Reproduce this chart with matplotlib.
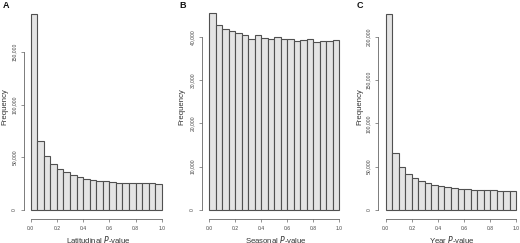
import matplotlib
matplotlib.use("Agg")
import matplotlib.pyplot as plt
import numpy as np

plt.rcParams['font.family'] = ['Liberation Sans', 'DejaVu Sans']

bin_edges = [i / 20 for i in range(21)]
x_ticks = [0.0, 0.2, 0.4, 0.6, 0.8, 1.0]
x_tick_labels = ["0.0", "0.2", "0.4", "0.6", "0.8", "1.0"]

lat_counts = [186000, 65800, 50900, 43700, 38600, 35800, 33200, 31300, 29700, 28800,
              27800, 27200, 26600, 25900, 25600, 25600, 25300, 25300, 25300, 25000]
sea_counts = [45400, 42700, 41800, 41400, 40800, 40500, 39500, 40300, 39800, 39500,
              39900, 39400, 39400, 39100, 39150, 39400, 38850, 39000, 39000, 39150]
year_counts = [226000, 66200, 49200, 41200, 36500, 33100, 30800, 28800, 27300, 26200,
               25000, 24600, 24200, 23500, 23100, 22700, 22700, 22300, 22300, 22300]

panels = [
    dict(letter="A", counts=lat_counts, xlabel_prefix="Latitudinal ",
         yticks=[0, 50000, 100000, 150000],
         ylabels=["0", "50,000", "100,000", "150,000"],
         ylim=(-8544, 187970), xlim=(-0.051, 1.04)),
    dict(letter="B", counts=sea_counts, xlabel_prefix="Seasonal ",
         yticks=[0, 10000, 20000, 30000, 40000],
         ylabels=["0", "10,000", "20,000", "30,000", "40,000"],
         ylim=(-2077, 45696), xlim=(-0.056, 1.04)),
    dict(letter="C", counts=year_counts, xlabel_prefix="Year ",
         yticks=[0, 50000, 100000, 150000, 200000],
         ylabels=["0", "50,000", "100,000", "150,000", "200,000"],
         ylim=(-10385, 228474), xlim=(-0.056, 1.02)),
]

W, H = 520, 243
fig = plt.figure(figsize=(W / 100, H / 100), dpi=100)

# axes pixel boxes: left, right, top, bottom (from top)
boxes = [(24, 167, 12, 219), (201.7, 344.5, 12, 219), (378.3, 519, 12, 219)]
letter_x = [3, 179, 357]
freq_x = [5, 182, 360]

edge_col = "#505050"
fill_col = "#e4e4e4"
spine_col = "#666666"

for p, box, lx, fx in zip(panels, boxes, letter_x, freq_x):
    l, r, t, b = box
    ax = fig.add_axes([l / W, 1 - b / H, (r - l) / W, (b - t) / H])
    ax.bar(bin_edges[:-1], p["counts"], width=0.05, align="edge",
           color=fill_col, edgecolor=edge_col, linewidth=0.8)
    ax.set_xlim(*p["xlim"])
    ax.set_ylim(*p["ylim"])
    for s in ["top", "right"]:
        ax.spines[s].set_visible(False)
    ax.spines["left"].set_bounds(p["yticks"][0], p["yticks"][-1])
    ax.spines["bottom"].set_bounds(0, 1)
    for s in ["left", "bottom"]:
        ax.spines[s].set_color(spine_col)
        ax.spines[s].set_linewidth(0.6)
    ax.set_xticks(x_ticks)
    ax.set_xticklabels(x_tick_labels, fontsize=3.6, color="#444444")
    ax.set_yticks(p["yticks"])
    ax.set_yticklabels(p["ylabels"], fontsize=3.6, color="#444444",
                       rotation=90, va="center")
    ax.tick_params(axis="both", length=2.5, width=0.5, color=spine_col, pad=2.5)
    ax.patch.set_visible(False)
    cx = (l + r) / 2 + 3
    fig.text(cx / W, 1 - 239 / H, p["xlabel_prefix"] + "$\\it{P}$-value",
             ha="center", va="center", fontsize=5.6, color="#333333")
    fig.text(fx / W, 1 - 107 / H, "Frequency", rotation=90,
             ha="center", va="center", fontsize=5.6, color="#333333")
    fig.text(lx / W, 1 - 6 / H, p["letter"], ha="left", va="center",
             fontsize=6.5, fontweight="bold", color="#111111")

fig.savefig("out.png", dpi=100)
